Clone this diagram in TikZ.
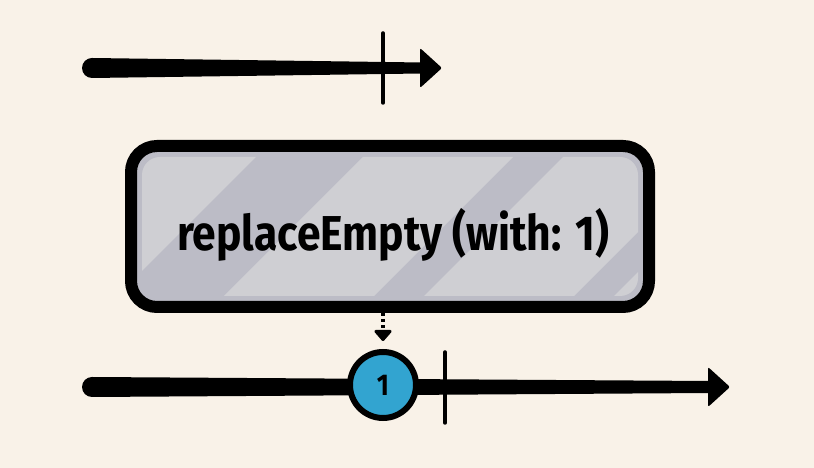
\documentclass[tikz,border=0pt]{standalone}
\usepackage{fontspec}
\setmainfont{Fira Sans}[FakeStretch=0.87]
\usepackage{tikz}
\usetikzlibrary{positioning, calc, arrows.meta}

\definecolor{paper}{RGB}{249,242,232}
\definecolor{opgray}{RGB}{188,188,198}
\definecolor{oplight}{RGB}{207,207,211}
\definecolor{marbleblue}{RGB}{50,164,208}

\tikzset{
    stream/.style={fill=black},
    head/.style={fill=black, rounded corners=2pt},
    tick/.style={line width=3.5pt, line cap=round},
    opbox/.style={draw, line width=12pt, rounded corners=26pt, minimum width=518pt, minimum height=161pt},
    optext/.style={font=\fontsize{49}{49}\selectfont\bfseries},
    marble/.style={circle, draw, line width=6pt, fill=marbleblue, minimum size=66pt, inner sep=0pt, font=\fontsize{30}{30}\selectfont\bfseries},
}

\begin{document}
\begin{tikzpicture}[x=1pt,y=1pt]
    \useasboundingbox[fill=paper] (0,0) rectangle (814,468);

    % input stream
    \coordinate (in start) at (92,400);
    \coordinate (in end) at (422,400);
    \fill[stream] ($(in start)+(0,10)$) -- ($(in end)+(0,5.5)$) -- ($(in end)+(0,-5.5)$) -- ($(in start)+(0,-10)$) arc[start angle=270, end angle=90, radius=10pt] -- cycle;
    \fill[head] ($(in end)+(-2,20)$) -- ($(in end)+(20,0)$) -- ($(in end)+(-2,-20)$) -- cycle;
    \draw[tick] (383,435) -- (383,365);

    % operator
    \node[opbox, fill=opgray] (op) at (390,241.5) {};
    \begin{scope}
        \clip[rounded corners=18pt] ($(op.south west)+(17,17)$) rectangle ($(op.north east)+(-17,-17)$);
        \foreach \a/\b in {100/253, 360/510, 560/710, 750/900}
            \fill[oplight] (\a+32,340) -- (\b+32,340) -- (\b-168,140) -- (\a-168,140) -- cycle;
    \end{scope}
    \node[optext] (oplabel) at ([xshift=3pt, yshift=-8pt]op.center) {replaceEmpty (with: 1)};

    % output stream
    \coordinate (out start) at (92,81);
    \coordinate (out end) at (710,81);
    \fill[stream] ($(out start)+(0,10)$) -- ($(out end)+(0,6)$) -- ($(out end)+(0,-6)$) -- ($(out start)+(0,-10)$) arc[start angle=270, end angle=90, radius=10pt] -- cycle;
    \fill[head] ($(out end)+(-2,20)$) -- ($(out end)+(20,0)$) -- ($(out end)+(-2,-20)$) -- cycle;
    \draw[tick] (445,116) -- (445,45);
    \node[marble] (m1) at (383,83) {1};

    \draw[line width=4pt, dash pattern=on 3pt off 3pt, -{Triangle[length=12pt, width=20pt, round]}, shorten >=8pt] (m1 |- op.south) -- (m1.north);
\end{tikzpicture}
\end{document}
